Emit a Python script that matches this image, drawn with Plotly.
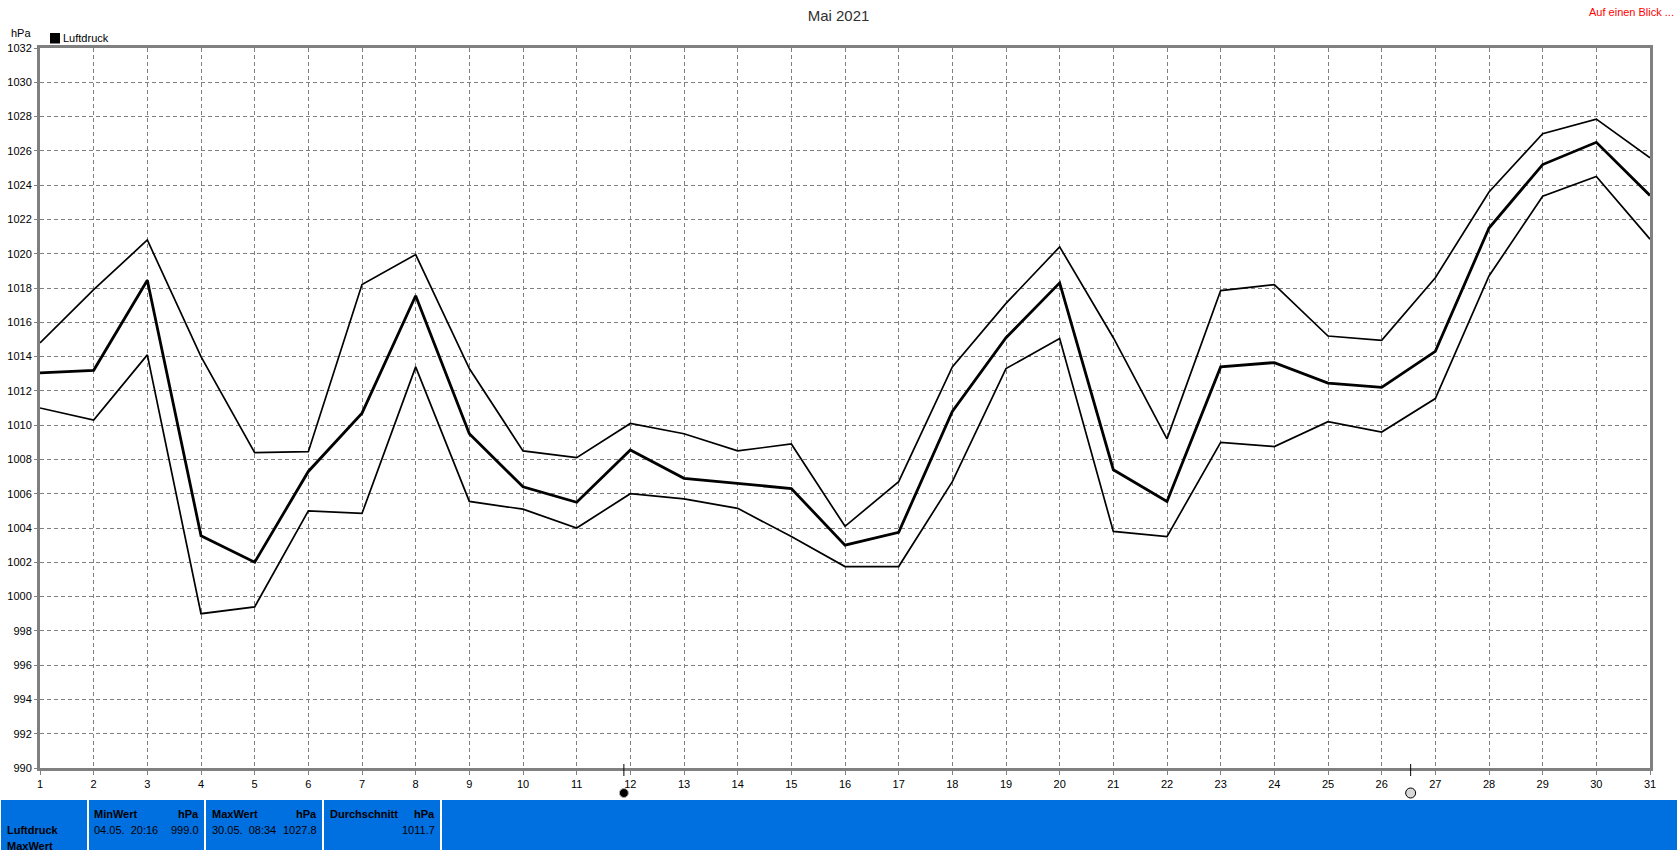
import plotly.graph_objects as go

days = list(range(1, 32))
druck_max = [1014.8, 1017.9, 1020.8, 1014.0, 1008.4, 1008.45, 1018.2, 1019.95, 1013.3, 1008.5, 1008.1,
             1010.1, 1009.5, 1008.5, 1008.9, 1004.1, 1006.7, 1013.4, 1017.1, 1020.4, 1015.1, 1009.2,
             1017.85, 1018.2, 1015.2, 1014.95, 1018.6, 1023.6, 1027.0, 1027.85, 1025.6]
druck_avg = [1013.05, 1013.2, 1018.45, 1003.55, 1002.0, 1007.3, 1010.7, 1017.55, 1009.5, 1006.4, 1005.5,
             1008.55, 1006.9, 1006.6, 1006.3, 1003.0, 1003.75, 1010.8, 1015.1, 1018.3, 1007.4, 1005.55,
             1013.4, 1013.65, 1012.45, 1012.2, 1014.3, 1021.5, 1025.2, 1026.5, 1023.4]
druck_min = [1011.0, 1010.3, 1014.1, 999.0, 999.4, 1005.0, 1004.85, 1013.4, 1005.55, 1005.1, 1004.0,
             1006.0, 1005.7, 1005.15, 1003.5, 1001.75, 1001.75, 1006.7, 1013.3, 1015.05, 1003.8, 1003.5,
             1009.0, 1008.75, 1010.2, 1009.6, 1011.55, 1018.7, 1023.35, 1024.5, 1020.85]
new_moon_day = 11.88
full_moon_day = 26.54

W, H = 1677, 850
L, R, T, B = 40, 1650, 48, 768
FONT = "Liberation Sans"
GRAY = "#808080"
BLUE = "#006fdf"


def px(x):
    return (x - L) / (R - L)


def py(y):
    return (B - y) / (B - T)


fig = go.Figure()
for name, vals, w in (("Max", druck_max, 1.7), ("Min", druck_min, 1.7), ("Luftdruck", druck_avg, 2.8)):
    fig.add_trace(go.Scatter(x=days, y=vals, mode="lines", showlegend=False, name=name,
                             line=dict(color="black", width=w), hoverinfo="x+y"))


def moon(day, fill, outline, r):
    """Tick below the axis plus a moon symbol, anchored on the day axis."""
    return [
        dict(type="line", xref="x", yref="paper", xsizemode="pixel", xanchor=day, x0=0, x1=0,
             y0=py(764), y1=py(776), line=dict(color="black", width=1)),
        dict(type="circle", xref="x", yref="paper", xsizemode="pixel", xanchor=day, x0=-r, x1=r,
             ysizemode="pixel", yanchor=py(793), y0=-r, y1=r, fillcolor=fill,
             line=dict(color=outline, width=1)),
    ]


shapes = [dict(type="rect", xref="paper", yref="paper", x0=px(50), x1=px(60), y0=py(43.5), y1=py(33),
               fillcolor="black", line=dict(width=0))]
for x0, x1 in ((1, 87), (89, 204), (206, 322), (324, 440), (442, 1677)):
    shapes.append(dict(type="rect", xref="paper", yref="paper", x0=px(x0), x1=px(x1), y0=py(800), y1=py(850),
                       fillcolor=BLUE, line=dict(width=0), layer="below"))
shapes += moon(new_moon_day, "black", "#b0b0b0", 4.5)
shapes += moon(full_moon_day, "#d8d8d8", "black", 5)


def note(text, x, y, anchor="left", bold=False, color="black", size=11):
    if bold:
        text = "<b>" + text + "</b>"
    # annotations carry an inner padding of about 3 px
    x = x - 3 if anchor == "left" else x + 3
    return dict(text=text, xref="paper", yref="paper", x=px(x), y=py(y), xanchor=anchor, yanchor="middle",
                showarrow=False, align=anchor, font=dict(family=FONT, size=size, color=color))


annotations = [
    note("hPa", 12, 33),
    note("Luftdruck", 64, 38),
    note("Auf einen Blick ...", 1673, 12, anchor="right", color="red", size=11),
    note("Luftdruck", 8, 830, bold=True),
    note("MaxWert", 8, 846, bold=True),
    note("MinWert", 95, 814, bold=True),
    note("hPa", 198, 814, anchor="right", bold=True),
    note("04.05.&nbsp;&nbsp;20:16", 95, 830),
    note("999.0", 198, 830, anchor="right"),
    note("MaxWert", 213, 814, bold=True),
    note("hPa", 316, 814, anchor="right", bold=True),
    note("30.05.&nbsp;&nbsp;08:34", 213, 830),
    note("1027.8", 316, 830, anchor="right"),
    note("Durchschnitt", 331, 814, bold=True),
    note("hPa", 434, 814, anchor="right", bold=True),
    note("1011.7", 434, 830, anchor="right"),
]

axis_common = dict(showline=True, linecolor=GRAY, linewidth=3, mirror=True, showgrid=True, gridcolor=GRAY,
                   gridwidth=1, griddash="4px,3px", zeroline=False, ticks="outside", tickwidth=1,
                   tickcolor=GRAY, automargin=False, tickfont=dict(family=FONT, size=11, color="black"))

fig.update_layout(
    width=W, height=H, autosize=False,
    margin=dict(l=L, r=W - R, t=T, b=H - B, pad=0),
    paper_bgcolor="white", plot_bgcolor="white",
    title=dict(text="Mai 2021", x=0.5, xanchor="center", y=1 - 16 / H, yanchor="middle",
               automargin=False, font=dict(family=FONT, size=15, color="#303030")),
    xaxis=dict(range=[1, 31], tick0=1, dtick=1, ticklen=4, **axis_common),
    yaxis=dict(range=[990, 1032], tick0=990, dtick=2, ticklen=3, **axis_common),
    showlegend=False,
    shapes=shapes, annotations=annotations,
)

fig.write_html("out.html", config={"displayModeBar": False},
               post_script="document.body.style.margin='0';document.body.style.overflow='hidden';")
